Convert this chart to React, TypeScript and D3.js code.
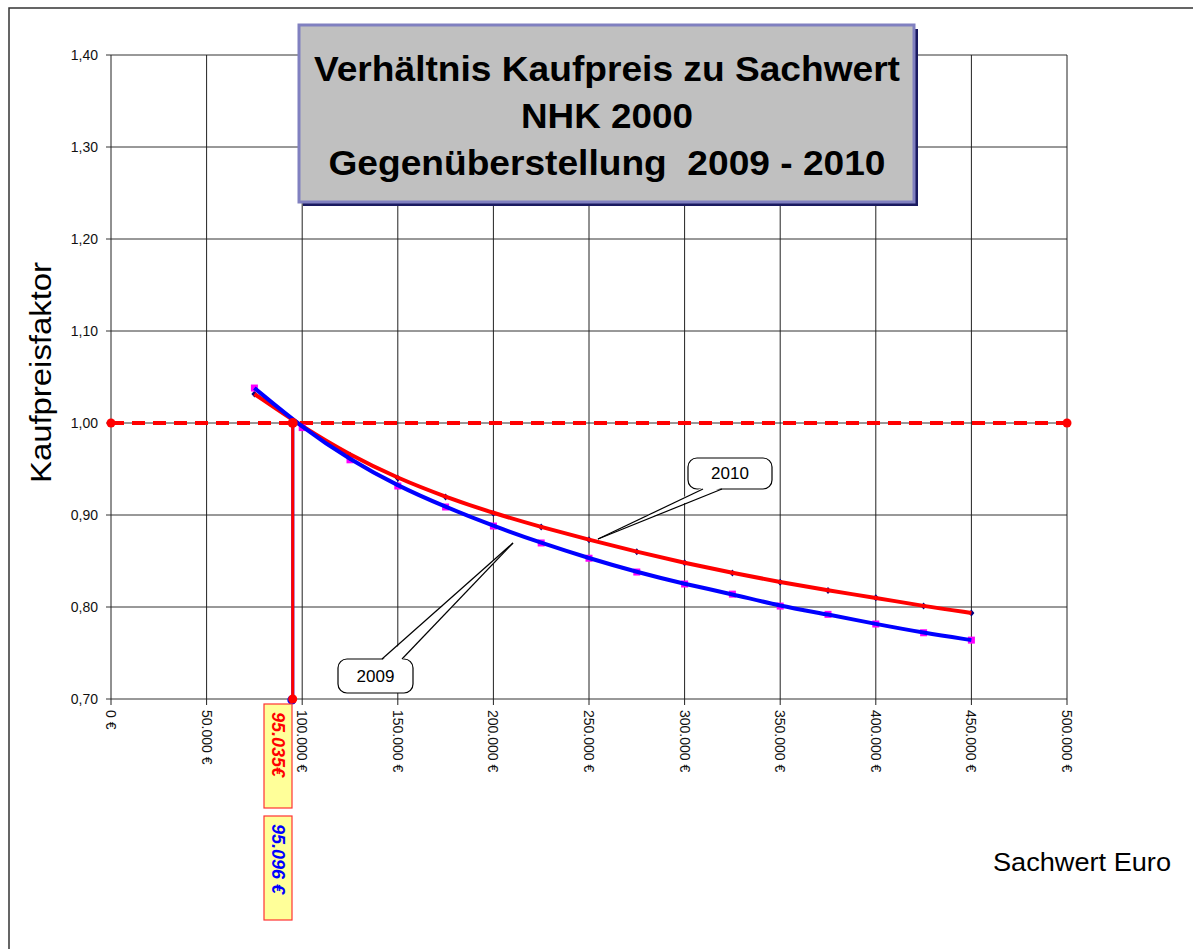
import React from "react";
import * as d3 from "d3";

const xValues = [75000, 100000, 125000, 150000, 175000, 200000, 225000, 250000, 275000, 300000, 325000, 350000, 375000, 400000, 425000, 450000];
const values2009 = [1.038, 0.995, 0.960, 0.9315, 0.9087, 0.888, 0.8696, 0.853, 0.838, 0.825, 0.814, 0.801, 0.792, 0.7815, 0.772, 0.764];
const values2010 = [1.0315, 0.996, 0.965, 0.940, 0.9196, 0.902, 0.887, 0.873, 0.860, 0.848, 0.837, 0.827, 0.818, 0.810, 0.801, 0.7935];
const xTicks = [0, 50000, 100000, 150000, 200000, 250000, 300000, 350000, 400000, 450000, 500000];
const yTicks = [0.7, 0.8, 0.9, 1.0, 1.1, 1.2, 1.3, 1.4];
const breakEven2010 = 95035;
const breakEven2009 = 95096;
const titleLines = ["Verhältnis Kaufpreis zu Sachwert", "NHK 2000", "Gegenüberstellung  2009 - 2010"];
const label2010 = "95.035€";
const label2009 = "95.096 €";

const fmtX = (v: number) => (v === 0 ? "0 €" : d3.format(",.0f")(v).replace(/,/g, ".") + " €");
const fmtY = (v: number) => v.toFixed(2).replace(".", ",");

export default function App() {
  const x = d3.scaleLinear().domain([0, 500000]).range([111, 1067]);
  const y = d3.scaleLinear().domain([0.7, 1.4]).range([699, 55]);
  const font = "'Liberation Sans', Arial, sans-serif";

  const line = d3
    .line<[number, number]>()
    .x((d) => x(d[0]))
    .y((d) => y(d[1]))
    .curve(d3.curveBasis);

  const pts2009 = xValues.map((v, i) => [v, values2009[i]] as [number, number]);
  const pts2010 = xValues.map((v, i) => [v, values2010[i]] as [number, number]);

  const callout = (
    bx: number, by: number, bw: number, bh: number,
    p1: number, p2: number, tipX: number, tipY: number, txt: string, fromTop: boolean
  ) => {
    const baseY = fromTop ? by : by + bh;
    const inner = fromTop ? by + 1.5 : by + bh - 1.5;
    return (
      <g>
        <rect x={bx} y={by} width={bw} height={bh} rx={9} ry={9} fill="#fff" stroke="#000" strokeWidth={1.2} />
        <polygon points={`${p1},${inner} ${p2},${inner} ${tipX},${tipY}`} fill="#fff" stroke="none" />
        <line x1={p1} y1={baseY} x2={tipX} y2={tipY} stroke="#000" strokeWidth={1.2} />
        <line x1={p2} y1={baseY} x2={tipX} y2={tipY} stroke="#000" strokeWidth={1.2} />
        <text x={bx + bw / 2} y={by + bh / 2} textAnchor="middle" dominantBaseline="central" fontSize={17} fontFamily={font}>
          {txt}
        </text>
      </g>
    );
  };

  return (
    <svg width={1193} height={949} style={{ position: "absolute", left: 0, top: 0, background: "#fff" }}>
      <rect x={0} y={0} width={1193} height={949} fill="#fff" />
      {/* outer chart border */}
      <rect x={9} y={8} width={1400} height={1200} fill="none" stroke="#333" strokeWidth={1.5} />

      {/* gridlines */}
      {yTicks.map((t) => (
        <line key={"h" + t} x1={x(0) - 5} x2={x(500000)} y1={y(t)} y2={y(t)} stroke="#333" strokeWidth={1} />
      ))}
      {xTicks.map((t) => (
        <line key={"v" + t} x1={x(t)} x2={x(t)} y1={y(1.4)} y2={y(0.7) + 6} stroke="#222" strokeWidth={1} />
      ))}

      {/* y tick labels */}
      {yTicks.map((t) => (
        <text key={"yl" + t} x={98} y={y(t)} textAnchor="end" dominantBaseline="central" fontSize={14} fontFamily={font} fill="#111">
          {fmtY(t)}
        </text>
      ))}
      {/* x tick labels */}
      {xTicks.map((t) => (
        <text
          key={"xl" + t}
          transform={`translate(${x(t)},710) rotate(90)`}
          textAnchor="start"
          dominantBaseline="central"
          fontSize={14}
          fontFamily={font}
          fill="#111"
        >
          {fmtX(t)}
        </text>
      ))}

      {/* axis titles */}
      <text
        transform={`translate(40,${(262 + 483) / 2}) rotate(-90)`}
        textAnchor="middle"
        dominantBaseline="central"
        fontSize={30}
        fontFamily={font}
        textLength={221}
        lengthAdjust="spacingAndGlyphs"
      >
        Kaufpreisfaktor
      </text>
      <text x={993} y={871} fontSize={26} fontFamily={font} textLength={178} lengthAdjust="spacingAndGlyphs">
        Sachwert Euro
      </text>

      {/* 1.00 dashed reference line */}
      <line x1={x(0)} x2={x(500000)} y1={y(1)} y2={y(1)} stroke="#ff0000" strokeWidth={4} strokeDasharray="13,8" />
      <circle cx={x(0)} cy={y(1)} r={4.5} fill="#ff0000" />
      <circle cx={x(500000)} cy={y(1)} r={4.5} fill="#ff0000" />

      {/* break-even verticals */}
      <line x1={x(breakEven2009)} x2={x(breakEven2009)} y1={y(1)} y2={y(0.7)} stroke="#0000ff" strokeWidth={3} />
      <circle cx={x(breakEven2009) - 1} cy={y(0.7) + 1} r={4.5} fill="#0000ff" />
      <line x1={x(breakEven2010)} x2={x(breakEven2010)} y1={y(1)} y2={y(0.7)} stroke="#ff0000" strokeWidth={3} />
      <circle cx={x(breakEven2010)} cy={y(0.7)} r={4.5} fill="#ff0000" />

      {/* series */}
      {pts2010.map((p, i) => {
        const cx = x(p[0]);
        const cy = y(p[1]);
        return <path key={"d" + i} d={`M${cx},${cy - 3.5}L${cx + 3},${cy}L${cx},${cy + 3.5}L${cx - 3},${cy}Z`} fill="#000080" />;
      })}
      {pts2009.map((p, i) => (
        <rect key={"s" + i} x={x(p[0]) - 3.5} y={y(p[1]) - 3.5} width={7} height={7} fill="#ff00ff" />
      ))}
      <path d={line(pts2010) || ""} fill="none" stroke="#ff0000" strokeWidth={4} />
      <path d={line(pts2009) || ""} fill="none" stroke="#0000ff" strokeWidth={4} />
      <circle cx={x(breakEven2010)} cy={y(1)} r={5} fill="#ff0000" />

      {/* callouts */}
      {callout(688, 458, 84, 31, 703, 722, 598, 539, "2010", false)}
      {callout(338, 659, 75, 34, 382, 402, 513, 543, "2009", true)}

      {/* break-even value labels */}
      <rect x={264} y={704} width={28} height={104} fill="#ffff99" stroke="#ff3333" strokeWidth={1.2} />
      <text
        transform={`translate(278,712) rotate(90)`}
        textAnchor="start"
        dominantBaseline="central"
        fontSize={18}
        fontWeight="bold"
        fontStyle="italic"
        fontFamily={font}
        fill="#ff0000"
      >
        {label2010}
      </text>
      <rect x={264} y={816} width={28} height={104} fill="#ffff99" stroke="#ff3333" strokeWidth={1.2} />
      <text
        transform={`translate(278,824) rotate(90)`}
        textAnchor="start"
        dominantBaseline="central"
        fontSize={18}
        fontWeight="bold"
        fontStyle="italic"
        fontFamily={font}
        fill="#0000ff"
      >
        {label2009}
      </text>

      {/* title box */}
      <rect x={303} y={29} width={615} height={177} fill="#1a1a60" />
      <rect x={299} y={25} width={615} height={177} fill="#c0c0c0" stroke="#8080c0" strokeWidth={3} />
      {titleLines.map((t, i) => (
        <text
          key={"t" + i}
          x={607}
          y={68 + i * 47}
          textAnchor="middle"
          dominantBaseline="central"
          fontSize={35}
          fontWeight="bold"
          fontFamily={font}
          fill="#000"
          style={{ whiteSpace: "pre" }}
          textLength={i === 0 ? 586 : i === 2 ? 557 : 172}
          lengthAdjust="spacingAndGlyphs"
        >
          {t}
        </text>
      ))}
    </svg>
  );
}
